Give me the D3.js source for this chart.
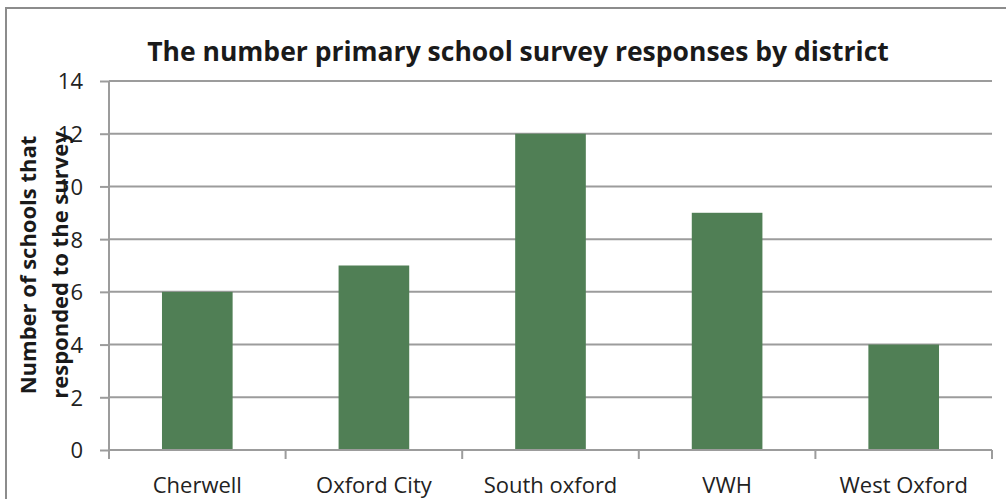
<!DOCTYPE html>
<html>
<head>
<meta charset="utf-8">
<script src="https://cdn.jsdelivr.net/npm/d3@7"></script>
<style>
  body { margin: 0; background: #fff; }
  svg { display: block; font-family: 'Open Sans', sans-serif; }
  .grid line { stroke: #9c9c9c; stroke-width: 2; }
</style>
</head>
<body>
<div id="chart"></div>
<script>
'use strict';

// data
const districts = ['Cherwell', 'Oxford City', 'South oxford', 'VWH', 'West Oxford'];
const responses = [6, 7, 12, 9, 4];
const yTicks = [0, 2, 4, 6, 8, 10, 12, 14];
const title = 'The number primary school survey responses by district';
const yTitle = ['Number of schools that', 'responded to the survey'];

drawChart('#chart');

function drawChart(el) {
  const width = 1006;
  const height = 499;
  const plot = { left: 109, right: 992, top: 81, bottom: 450 };

  const svg = d3.select(el)
    .append('svg')
    .attr('width', width)
    .attr('height', height);

  // outer frame
  svg.append('rect')
    .attr('x', 6)
    .attr('y', 8)
    .attr('width', 1010)
    .attr('height', 520)
    .attr('fill', 'none')
    .attr('stroke', '#8c8c8c')
    .attr('stroke-width', 2);

  const scaleY = d3.scaleLinear()
    .domain([0, 14])
    .range([plot.bottom, plot.top]);

  const scaleX = d3.scaleBand()
    .domain(districts)
    .range([plot.left, plot.right])
    .paddingInner(0.6)
    .paddingOuter(0.3);

  // gridlines
  svg.append('g')
    .attr('class', 'grid')
    .selectAll('line')
    .data(yTicks.filter(d => d > 0))
    .enter()
    .append('line')
    .attr('x1', plot.left)
    .attr('x2', plot.right)
    .attr('y1', d => scaleY(d))
    .attr('y2', d => scaleY(d));

  // bars
  svg.selectAll('rect.bar')
    .data(responses)
    .enter()
    .append('rect')
    .attr('class', 'bar')
    .attr('x', (d, i) => scaleX(districts[i]))
    .attr('y', d => scaleY(d))
    .attr('width', scaleX.bandwidth())
    .attr('height', d => scaleY(0) - scaleY(d))
    .attr('fill', '#507f55');

  // y axis
  const yAxis = svg.append('g')
    .attr('class', 'axisY')
    .attr('transform', `translate(${plot.left}, 0)`)
    .call(d3.axisLeft(scaleY).tickValues(yTicks).tickSize(9).tickPadding(17));
  yAxis.attr('font-family', null).attr('font-size', 22);
  yAxis.select('.domain').attr('stroke', '#9c9c9c').attr('stroke-width', 2)
    .attr('d', `M0,${plot.top}V${plot.bottom}`);
  yAxis.selectAll('.tick line').attr('stroke', '#9c9c9c').attr('stroke-width', 2);
  yAxis.selectAll('.tick text').attr('dy', '0.36em').attr('fill', '#222');

  // x axis with boundary ticks
  const edges = d3.range(districts.length + 1)
    .map(i => plot.left + i * (plot.right - plot.left) / districts.length);
  const xAxis = svg.append('g')
    .attr('class', 'axisX')
    .attr('transform', `translate(0, ${plot.bottom})`)
    .call(d3.axisBottom(scaleX).tickSize(0).tickPadding(27));
  xAxis.attr('font-family', null).attr('font-size', 22);
  xAxis.selectAll('.tick text').attr('fill', '#222');
  xAxis.select('.domain').attr('stroke', '#9c9c9c').attr('stroke-width', 2)
    .attr('d', `M${plot.left},0H${plot.right}`);
  xAxis.selectAll('.edge')
    .data(edges)
    .enter()
    .append('line')
    .attr('class', 'edge')
    .attr('x1', d => d)
    .attr('x2', d => d)
    .attr('y1', 0)
    .attr('y2', 9)
    .attr('stroke', '#9c9c9c')
    .attr('stroke-width', 2);

  // title
  svg.append('text')
    .attr('x', 518)
    .attr('y', 61)
    .attr('text-anchor', 'middle')
    .attr('font-size', 26.5)
    .attr('font-weight', 'bold')
    .attr('fill', '#1a1a1a')
    .text(title);

  // y axis title
  svg.append('g')
    .attr('transform', 'translate(36, 265) rotate(-90)')
    .selectAll('text')
    .data(yTitle)
    .enter()
    .append('text')
    .attr('x', 0)
    .attr('y', (d, i) => i * 32)
    .attr('text-anchor', 'middle')
    .attr('font-size', 22)
    .attr('font-weight', 'bold')
    .attr('fill', '#1a1a1a')
    .text(d => d);
}
</script>
</body>
</html>
